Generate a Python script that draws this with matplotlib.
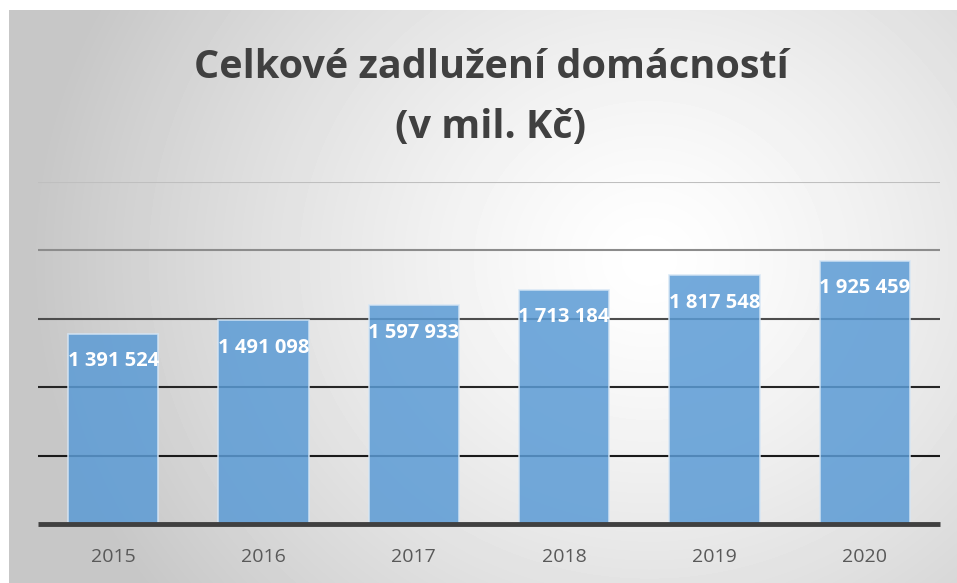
import matplotlib.pyplot as plt
import numpy as np

years = ["2015", "2016", "2017", "2018", "2019", "2020"]
debt = [1391524, 1491098, 1597933, 1713184, 1817548, 1925459]
grid_values = [500000, 1000000, 1500000, 2000000, 2500000]
grid_colors = ["#1a1a1a", "#262626", "#4d4d4d", "#8c8c8c", "#bfbfbf"]

title = "Celkové zadlužení domácností\n(v mil. Kč)"


def fmt(v):
    return f"{v:,}".replace(",", " ")


W, H = 957, 583
fig = plt.figure(figsize=(W / 100, H / 100), dpi=100)
fig.patch.set_facecolor("white")

# radial gradient background of the chart frame
bg = fig.add_axes([9 / W, 0, 1 - 9 / W, 573 / H])
yy, xx = np.mgrid[0:573, 0:948]
cx, cy = 640, 250
r = np.hypot((xx - cx) / 1.1, yy - cy)
r = np.clip(r / 560, 0, 1)
shade = 1.0 - 0.22 * r ** 1.3
bg.imshow(shade, cmap="gray", vmin=0, vmax=1, aspect="auto", interpolation="bilinear")
bg.set_axis_off()

ax = fig.add_axes([38 / W, (H - 524) / H, 902 / W, 342 / H])
ax.patch.set_alpha(0)
x = np.arange(len(years))

for gv, gc in zip(grid_values, grid_colors):
    ax.axhline(gv, color=gc, lw=1.5, zorder=1)

bars = ax.bar(x, debt, width=0.6, color="#5b9bd5", alpha=0.85,
              edgecolor="#d6e6f5", linewidth=1.2, zorder=2)
ax.axhline(0, color="#404040", lw=3.5, zorder=3, clip_on=False,
           solid_capstyle="butt")

for xi, v in zip(x, debt):
    ax.annotate(fmt(v), (xi, v), xytext=(0, -20), textcoords="offset points",
                ha="center", va="center", color="white", fontsize=14.5,
                fontweight="bold", family="Open Sans", zorder=4)

ax.set_xlim(-0.5, 5.5)
ax.set_ylim(0, 2500000)
ax.set_xticks(x)
ax.set_xticklabels(years, fontsize=14, color="#595959", family="Open Sans")
ax.tick_params(axis="x", length=0, pad=17)
ax.set_yticks([])
for s in ax.spines.values():
    s.set_visible(False)

fig.text(491 / W, 1 - 98 / H, title, ha="center", va="center",
         fontsize=28.5, fontweight="bold", color="#404040", family="Open Sans",
         linespacing=1.7)

fig.savefig("out.png", dpi=100)
